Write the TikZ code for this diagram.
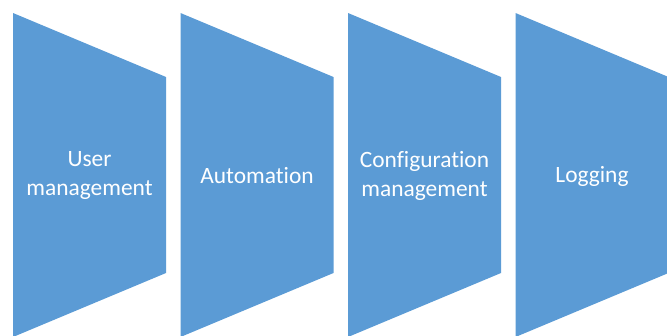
\documentclass[tikz,border=0pt]{standalone}
\usepackage{fontspec}
\setmainfont[Ligatures={NoCommon}]{Carlito}
\definecolor{stageblue}{HTML}{5B9BD5}
\tikzset{
  stage/.style={fill=stageblue},
  stagetext/.style={text=white, align=center, inner sep=0pt,
    font=\fontsize{23.4}{29}\selectfont}
}
\begin{document}
\begin{tikzpicture}[x=1pt, y=-1pt]
  \useasboundingbox (0,0) rectangle (667,335);
  \clip (0,0) rectangle (667,335);
  % four funnel stages, each narrowing to the right
  \foreach \i/\lx in {1/13, 2/180.5, 3/348, 4/515.5} {
    \fill[stage] (\lx,13) -- (\lx+153,77) -- (\lx+153,273) -- (\lx,337) -- cycle;
    \coordinate (c\i) at (\lx+76.5,176);
  }
  \node[stagetext] (t1) at (c1) {User\\management};
  \node[stagetext] (t2) at (c2) {Automation};
  \node[stagetext] (t3) at (c3) {Configuration\\management};
  \node[stagetext] (t4) at (c4) {Logging};
\end{tikzpicture}
\end{document}
